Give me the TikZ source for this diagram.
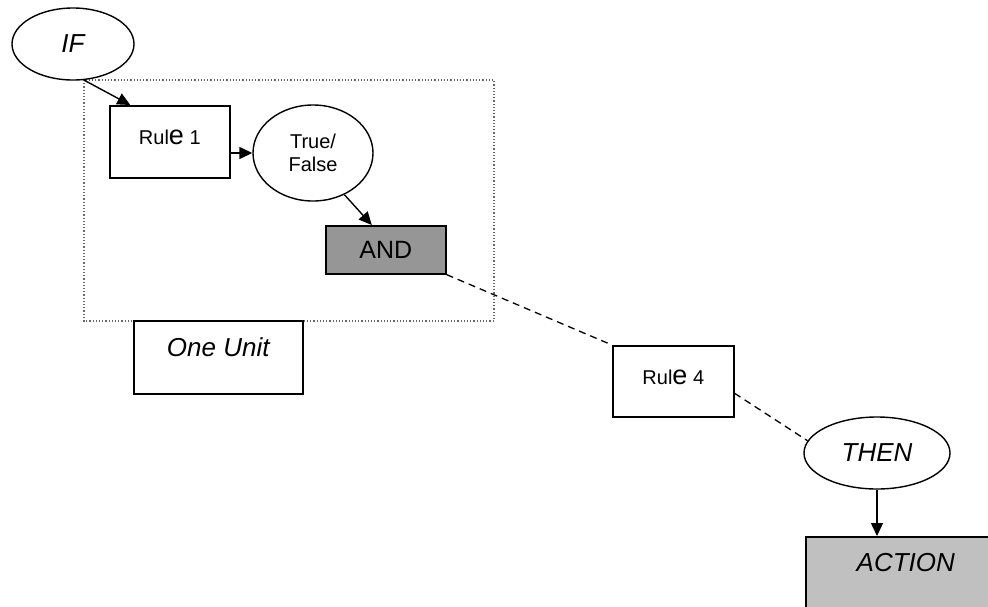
\documentclass[tikz,border=0pt]{standalone}
\usepackage{fontspec}
\setmainfont{Liberation Sans}
\usetikzlibrary{arrows.meta, positioning, calc, shapes.geometric}

\definecolor{andgray}{RGB}{150,150,150}
\definecolor{actgray}{RGB}{192,192,192}

\tikzset{
  box/.style={draw, line width=1.6pt, rectangle, inner sep=0pt, anchor=north west},
  oval/.style={draw, line width=1.4pt, ellipse, inner sep=0pt, align=center},
  link/.style={line width=1.4pt, -{Triangle[length=13pt,width=12pt]}},
  loose/.style={line width=1.3pt, dash pattern=on 7pt off 5pt},
  bigit/.style={font=\fontsize{26}{30}\selectfont\itshape},
  small/.style={font=\fontsize{20}{23}\selectfont}
}

\begin{document}
\begin{tikzpicture}[x=1pt,y=-1pt]
  \useasboundingbox (0,0) rectangle (988,606);
  \fill[white] (0,0) rectangle (988,606);
  \draw[black!60, line width=1.2pt, dotted] (84,80) rectangle (494,321);

  \node[oval, bigit, minimum width=122pt, minimum height=72pt] (if) at (73,44) {IF};
  \node[box, small, minimum width=120pt, text height=39pt, text depth=33pt] (rule1) at (109,105)
    {Rul{\fontsize{27}{30}\selectfont e} 1};
  \node[oval, small, minimum width=120pt, minimum height=96pt] (tf) at (313,153) {True/\\False};
  \node[box, fill=andgray, font=\fontsize{25}{30}\selectfont, minimum width=120pt,
    text height=33pt, text depth=15pt] (and) at (325,225) {AND};
  \node[box, bigit, minimum width=169pt, text height=36pt, text depth=37pt] (unit) at (133,320) {One Unit};
  \node[box, small, minimum width=121pt, text height=39pt, text depth=32pt] (rule4) at (612,345)
    {Rul{\fontsize{27}{30}\selectfont e} 4};
  \node[oval, bigit, minimum width=146pt, minimum height=72pt] (then) at (877,453) {THEN};
  \node[box, bigit, fill=actgray, minimum width=200pt, text height=35pt, text depth=40pt] (action) at (805,536) {ACTION};

  \draw[link] (if.-73) -- ($(rule1.north west)!0.175!(rule1.north east)$);
  \draw[link] (rule1.east |- tf.west) -- (tf.west);
  \draw[link] (tf.-53) -- ($(and.north)+(-14,0)$);
  \draw[loose] (and.south east) -- (rule4.north west);
  \draw[loose] ($(rule4.east)+(0,12)$) -- (then.170);
  \draw[link] (then.south) -- (then.south |- action.north);
\end{tikzpicture}
\end{document}
